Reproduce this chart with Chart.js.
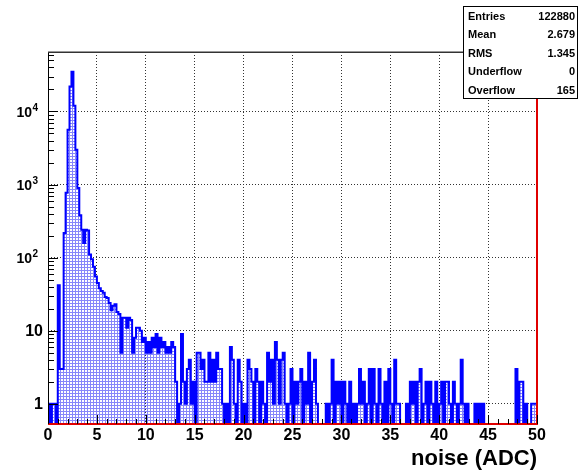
<!DOCTYPE html>
<html>
<head>
<meta charset="utf-8">
<script src="https://cdn.jsdelivr.net/npm/chart.js@4.4.0/dist/chart.umd.min.js"></script>
<style>
  html, body { margin: 0; padding: 0; background: #fff; }
  #wrap { width: 580px; height: 472px; position: relative; }
</style>
</head>
<body>
<div id="wrap"><canvas id="noiseChart"></canvas></div>
<script>
// binning of the noise histogram
const binWidth = 0.2;
const xMin = 0;
const xMax = 50;

// counts per bin, 0 - 10 ADC
const countsLow = [
  100, 1, 0, 1, 1, 0, 42, 3, 3, 218,
  770, 5600, 22000, 35000, 12000, 3000, 900, 380, 240, 158,
  240, 235, 110, 95, 75, 55, 45, 38, 35, 33,
  29, 28, 24, 19, 22, 23, 18, 17, 5, 15,
  15, 11, 15, 14, 5, 8, 11, 11, 10, 7
];
// counts per bin, 10 - 25 ADC
const countsMid = [
  8, 5, 7, 5, 8, 6, 9, 5, 8, 6,
  7, 5, 6, 5, 7, 6, 2, 0, 1, 9,
  2, 1, 3, 4, 1, 2, 0, 5, 5, 3,
  4, 2, 2, 5, 2, 4, 2, 5, 3, 3,
  1, 0, 1, 0, 6, 4, 1, 0, 4, 2,
  0, 1, 0, 4, 3, 2, 0, 3, 2, 0,
  2, 1, 0, 5, 2, 4, 1, 7, 4, 1,
  4, 5, 1, 0, 1
];
// counts per bin, 25 - 50 ADC
const countsTail = [
  3, 0, 2, 1, 2, 3, 0, 2, 1, 5,
  0, 2, 4, 1, 0, 0, 0, 0, 1, 0,
  1, 4, 0, 2, 1, 2, 0, 2, 1, 0,
  2, 0, 1, 0, 1, 3, 1, 2, 0, 1,
  3, 0, 3, 1, 0, 3, 1, 0, 2, 0,
  3, 1, 0, 4, 1, 1, 0, 0, 0, 1,
  0, 2, 1, 2, 0, 2, 3, 0, 1, 2,
  0, 2, 1, 0, 2, 0, 1, 2, 0, 2,
  2, 1, 0, 2, 1, 0, 1, 4, 1, 0,
  1, 0, 0, 0, 1, 0, 1, 0, 1, 0,
  0, 0, 0, 0, 0, 0, 0, 0, 0, 0,
  0, 0, 0, 0, 0, 3, 0, 2, 2, 0,
  1, 0, 0, 1, 1
];

// axis ticks
const xStep = 5;
const yTickValues = [1, 10, 100, 1000, 10000];
const yTickBase = ['1', '10', '10', '10', '10'];
const yTickExp = ['', '', '2', '3', '4'];
const yMin = 0.53;
const yMax = 65000;

// second (red) histogram: empty, overflow edge at x = 50
const overflowX = [0, 50, 50];
const overflowY = [0, 0, yMax];

// statistics box
const statsLabels = ['Entries', 'Mean', 'RMS', 'Underflow', 'Overflow'];
const statsValues = ['122880', '2.679', '1.345', '0', '165'];

const counts = countsLow.concat(countsMid, countsTail);
const histPoints = [{x: xMin, y: 0}];
counts.forEach((c, i) => histPoints.push({x: xMin + i * binWidth, y: c}));
histPoints.push({x: xMax, y: counts[counts.length - 1]});
histPoints.push({x: xMax, y: 0});
const overflowPoints = overflowX.map((x, i) => ({x: x, y: overflowY[i]}));

function makeDotPattern() {
  const c = document.createElement('canvas');
  c.width = 3; c.height = 3;
  const g = c.getContext('2d');
  g.fillStyle = 'rgb(135,135,250)';
  g.fillRect(0, 0, 3, 3);
  g.clearRect(1, 1, 2, 2);
  return g.createPattern(c, 'repeat');
}

const FONT = 'Liberation Sans, Arial, Helvetica, sans-serif';

// inward ticks and frame, drawn like ROOT does
const frameTicks = {
  id: 'frameTicks',
  afterDatasetsDraw(chart) {
    const {ctx, chartArea: a, scales: {x, y}} = chart;
    ctx.save();
    ctx.strokeStyle = '#000';
    ctx.lineWidth = 1;
    ctx.beginPath();
    for (let v = xMin; v <= xMax; v++) {
      const px = Math.round(x.getPixelForValue(v)) + 0.5;
      const len = v % xStep === 0 ? 9 : 5;
      ctx.moveTo(px, a.bottom);
      ctx.lineTo(px, a.bottom - len);
    }
    yTickValues.forEach(d => {
      for (let m = 1; m <= 9; m++) {
        const v = d * m;
        if (v > yMax) break;
        const py = Math.round(y.getPixelForValue(v)) + 0.5;
        ctx.moveTo(a.left, py);
        ctx.lineTo(a.left + (m === 1 ? 10 : 6), py);
      }
    });
    ctx.stroke();
    ctx.beginPath();
    ctx.moveTo(a.left + 0.5, a.top);
    ctx.lineTo(a.left + 0.5, a.bottom);
    ctx.stroke();
    ctx.strokeStyle = '#333';
    ctx.lineWidth = 1.5;
    ctx.beginPath();
    ctx.moveTo(a.left, a.top + 0.25);
    ctx.lineTo(a.right, a.top + 0.25);
    ctx.stroke();
    ctx.restore();
  },
  afterDraw(chart) {
    const {ctx, scales: {y}} = chart;
    ctx.save();
    ctx.fillStyle = '#000';
    ctx.textBaseline = 'middle';
    ctx.textAlign = 'right';
    yTickValues.forEach((v, i) => {
      const py = y.getPixelForValue(v);
      if (yTickExp[i]) {
        ctx.font = 'bold 10px ' + FONT;
        ctx.fillText(yTickExp[i], 38, py - 3.5);
        ctx.font = 'bold 14px ' + FONT;
        ctx.fillText(yTickBase[i], 32, py + 1.5);
      } else {
        ctx.font = 'bold 16px ' + FONT;
        ctx.fillText(yTickBase[i], 43, py + 1);
      }
    });
    ctx.restore();
  }
};

const statsBox = {
  id: 'statsBox',
  afterDraw(chart) {
    const ctx = chart.ctx;
    const left = 463, top = 6, w = 115, h = 93;
    ctx.save();
    ctx.fillStyle = '#fff';
    ctx.fillRect(left, top, w, h);
    ctx.strokeStyle = '#000';
    ctx.lineWidth = 1;
    ctx.strokeRect(left + 0.5, top + 0.5, w - 1, h - 1);
    ctx.fillStyle = '#000';
    ctx.font = 'bold 11px ' + FONT;
    ctx.textBaseline = 'middle';
    statsLabels.forEach((lab, i) => {
      const ty = top + 10.5 + i * 18.6;
      ctx.textAlign = 'left';
      ctx.fillText(lab, left + 5, ty);
      ctx.textAlign = 'right';
      ctx.fillText(statsValues[i], left + w - 3, ty);
    });
    ctx.restore();
  }
};

new Chart('noiseChart', {
  type: 'line',
  data: {
    datasets: [
      {
        data: overflowPoints,
        borderColor: '#e00000',
        borderWidth: 2,
        borderDash: [],
        fill: false,
        pointRadius: 0,
        clip: false,
        order: -1
      },
      {
        data: histPoints,
        stepped: 'after',
        borderColor: '#0000ff',
        borderWidth: 2,
        backgroundColor: makeDotPattern(),
        fill: 'start',
        pointRadius: 0,
        order: 1
      }
    ]
  },
  options: {
    responsive: true,
    maintainAspectRatio: false,
    animation: false,
    parsing: false,
    layout: { padding: { top: 52, right: 43, left: 0, bottom: 0 } },
    plugins: {
      legend: { display: false },
      tooltip: { enabled: false }
    },
    scales: {
      x: {
        type: 'linear',
        min: xMin,
        max: xMax,
        afterFit(s) { s.height = 48; },
        ticks: {
          stepSize: xStep,
          color: '#000',
          padding: 2,
          maxRotation: 0,
          autoSkip: false,
          font: { family: FONT, size: 16, weight: 'bold' }
        },
        grid: { color: '#333', lineWidth: 1, drawTicks: false },
        border: { display: false, dash: [1, 2] },
        title: {
          display: true,
          text: 'noise (ADC)',
          align: 'end',
          color: '#000',
          padding: 0,
          font: { family: FONT, size: 22, weight: 'bold' }
        }
      },
      y: {
        type: 'logarithmic',
        min: yMin,
        max: yMax,
        afterFit(s) { s.width = 48; },
        afterBuildTicks(s) { s.ticks = yTickValues.map(v => ({value: v})); },
        ticks: { display: false },
        grid: { color: '#333', lineWidth: 1, drawTicks: false },
        border: { display: false, dash: [1, 2] }
      }
    }
  },
  plugins: [frameTicks, statsBox]
});
</script>
</body>
</html>
